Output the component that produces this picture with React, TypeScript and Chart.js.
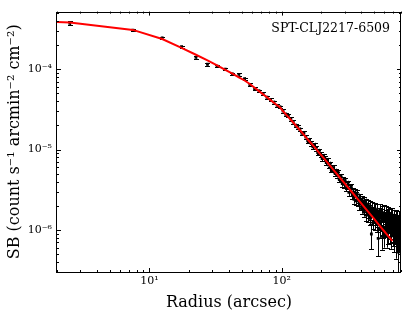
import React, { useEffect, useRef } from 'react';
import { Chart, registerables } from 'chart.js';

Chart.register(...registerables);

// Radial bins (arcsec)
const radii = [
  2.5, 7.5, 12.5, 17.5, 22.5, 27.5, 32.5, 37.5, 42.5, 47.5,
  52.5, 57.5, 62.5, 67.5, 72.5, 77.5, 82.5, 87.5, 92.5, 97.5,
  102.5, 107.5, 112.5, 117.5, 122.5, 127.5, 132.5, 137.5, 142.5, 147.5,
  152.5, 157.5, 162.5, 167.5, 172.5, 177.5, 182.5, 187.5, 192.5, 197.5,
  202.5, 207.5, 212.5, 217.5, 222.5, 227.5, 232.5, 237.5, 242.5, 247.5,
  252.5, 257.5, 262.5, 267.5, 272.5, 277.5, 282.5, 287.5, 292.5, 297.5,
  302.5, 307.5, 312.5, 317.5, 322.5, 327.5, 332.5, 337.5, 342.5, 347.5,
  352.5, 357.5, 362.5, 367.5, 372.5, 377.5, 382.5, 387.5, 392.5, 397.5,
  402.5, 407.5, 412.5, 417.5, 422.5, 427.5, 432.5, 437.5, 442.5, 447.5,
  452.5, 457.5, 462.5, 467.5, 472.5, 477.5, 482.5, 487.5, 492.5, 497.5,
  502.5, 507.5, 512.5, 517.5, 522.5, 527.5, 532.5, 537.5, 542.5, 547.5,
  552.5, 557.5, 562.5, 567.5, 572.5, 577.5, 582.5, 587.5, 592.5, 597.5,
  602.5, 607.5, 612.5, 617.5, 622.5, 627.5, 632.5, 637.5, 642.5, 647.5,
  652.5, 657.5, 662.5, 667.5, 672.5, 677.5, 682.5, 687.5, 692.5, 697.5,
  702.5, 707.5, 712.5, 717.5, 722.5, 727.5, 732.5, 737.5, 742.5, 747.5,
  752.5, 757.5, 762.5, 767.5, 772.5, 777.5,
];

// Surface brightness (count s^-1 arcmin^-2 cm^-2)
const sb = [
  3.72e-4, 3.05e-4, 2.45e-4, 1.9e-4, 1.4e-4, 1.15e-4, 1.09e-4, 1.0e-4, 8.7e-5, 8.6e-5,
  7.6e-5, 6.45e-5, 5.75e-5, 5.37e-5, 5.0e-5, 4.47e-5, 4.17e-5, 3.89e-5, 3.55e-5, 3.39e-5,
  3.02e-5, 2.75e-5, 2.63e-5, 2.4e-5, 2.19e-5, 2.0e-5, 1.91e-5, 1.79e-5, 1.59e-5, 1.6e-5,
  1.43e-5, 1.28e-5, 1.32e-5, 1.19e-5, 1.08e-5, 1.14e-5, 1.035e-5, 9.16e-6, 9.55e-6, 8.67e-6,
  7.71e-6, 8.26e-6, 7.71e-6, 6.87e-6, 7.36e-6, 6.43e-6, 6.61e-6, 5.64e-6, 5.93e-6, 5.96e-6,
  5.11e-6, 5.38e-6, 4.84e-6, 5.22e-6, 4.29e-6, 4.54e-6, 4.58e-6, 3.77e-6, 4.18e-6, 3.69e-6,
  4.09e-6, 3.37e-6, 3.58e-6, 3.72e-6, 2.93e-6, 3.34e-6, 2.96e-6, 3.37e-6, 2.72e-6, 2.97e-6,
  2.4e-6, 2.87e-6, 2.67e-6, 2.31e-6, 2.77e-6, 2.3e-6, 2.51e-6, 2.04e-6, 2.44e-6, 2.17e-6,
  1.85e-6, 2.32e-6, 1.88e-6, 2.26e-6, 1.75e-6, 2.01e-6, 1.53e-6, 2.11e-6, 1.84e-6, 1.53e-6,
  2.02e-6, 1.72e-6, 1.4e-6, 1.94e-6, 1.65e-6, 8.9e-7, 1.86e-6, 1.55e-6, 1.26e-6, 1.83e-6,
  1.53e-6, 1.24e-6, 1.81e-6, 1.47e-6, 1.2e-6, 1.75e-6, 1.46e-6, 7.85e-7, 1.54e-6, 1.29e-6,
  1.71e-6, 1.03e-6, 1.5e-6, 1.28e-6, 8.34e-7, 1.63e-6, 1.28e-6, 1.04e-6, 1.63e-6, 8.6e-7,
  1.34e-6, 1.07e-6, 1.59e-6, 1.14e-6, 8.47e-7, 1.39e-6, 1.14e-6, 1.54e-6, 9.35e-7, 1.24e-6,
  1.44e-6, 9.57e-7, 1.3e-6, 1.07e-6, 1.45e-6, 8.43e-7, 1.17e-6, 1.46e-6, 9.06e-7, 1.23e-6,
  1.01e-6, 1.38e-6, 7.82e-7, 1.19e-6, 1.0e-6, 1.36e-6, 6.75e-7, 1.18e-6, 9.93e-7, 1.32e-6,
  8.05e-7, 1.15e-6, 5.3e-7, 1.04e-6, 1.3e-6, 8.07e-7,
];

// Relative 1-sigma uncertainties
const sbRelErr = [
  0.06, 0.035, 0.03, 0.03, 0.035, 0.035, 0.035, 0.035, 0.035, 0.035,
  0.035, 0.035, 0.035, 0.035, 0.04, 0.04, 0.04, 0.04, 0.04, 0.04,
  0.045, 0.045, 0.045, 0.045, 0.05, 0.05, 0.05, 0.05, 0.055, 0.055,
  0.055, 0.06, 0.06, 0.06, 0.065, 0.065, 0.065, 0.07, 0.07, 0.07,
  0.07, 0.07, 0.07, 0.07, 0.07, 0.07, 0.07, 0.075, 0.075, 0.075,
  0.075, 0.075, 0.075, 0.075, 0.08, 0.08, 0.085, 0.085, 0.085, 0.09,
  0.09, 0.095, 0.095, 0.1, 0.1, 0.1, 0.105, 0.105, 0.11, 0.11,
  0.115, 0.115, 0.12, 0.125, 0.125, 0.13, 0.13, 0.135, 0.135, 0.14,
  0.14, 0.14, 0.15, 0.15, 0.16, 0.16, 0.165, 0.165, 0.17, 0.17,
  0.175, 0.175, 0.18, 0.18, 0.185, 0.35, 0.19, 0.19, 0.195, 0.195,
  0.2, 0.2, 0.2, 0.205, 0.21, 0.21, 0.215, 0.4, 0.22, 0.22,
  0.22, 0.225, 0.225, 0.23, 0.32, 0.23, 0.235, 0.24, 0.24, 0.3,
  0.245, 0.245, 0.25, 0.255, 0.29, 0.26, 0.26, 0.26, 0.29, 0.265,
  0.27, 0.29, 0.275, 0.28, 0.28, 0.31, 0.28, 0.285, 0.31, 0.29,
  0.29, 0.29, 0.32, 0.295, 0.3, 0.3, 0.35, 0.3, 0.31, 0.31,
  0.33, 0.31, 0.55, 0.315, 0.315, 0.34,
];

// Best-fit model curve
const modelRadii = [
  2, 2.5, 7.5, 12.5, 17.5, 22.5, 27.5, 32.5, 37.5, 42.5,
  47.5, 52.5, 57.5, 62.5, 67.5, 72.5, 77.5, 82.5, 87.5, 92.5,
  97.5, 102.5, 112.5, 122.5, 132.5, 142.5, 152.5, 162.5, 177.5, 192.5,
  207.5, 222.5, 247.5, 272.5, 297.5, 322.5, 347.5, 372.5, 397.5, 422.5,
  447.5, 472.5, 497.5, 522.5, 547.5, 572.5, 597.5, 622.5, 647.5, 672.5,
  687.5,
];
const modelSb = [
  3.85e-4, 3.8e-4, 3.08e-4, 2.37e-4, 1.84e-4, 1.51e-4, 1.285e-4, 1.117e-4, 9.82e-5, 8.77e-5,
  7.91e-5, 7.23e-5, 6.53e-5, 5.87e-5, 5.33e-5, 4.86e-5, 4.47e-5, 4.12e-5, 3.82e-5, 3.56e-5,
  3.33e-5, 3.01e-5, 2.53e-5, 2.17e-5, 1.87e-5, 1.63e-5, 1.43e-5, 1.26e-5, 1.07e-5, 9.12e-6,
  7.89e-6, 6.87e-6, 5.56e-6, 4.59e-6, 3.86e-6, 3.29e-6, 2.84e-6, 2.47e-6, 2.17e-6, 1.92e-6,
  1.71e-6, 1.54e-6, 1.39e-6, 1.26e-6, 1.15e-6, 1.05e-6, 9.64e-7, 8.87e-7, 8.18e-7, 7.62e-7,
  7.29e-7,
];

const xTickValues = [10, 100];
const yTickValues = [1e-6, 1e-5, 1e-4];
const clusterName = 'SPT-CLJ2217-6509';
const xTitle = 'Radius (arcsec)';
const yTitle = 'SB (count s\u207B\u00B9 arcmin\u207B\u00B2 cm\u207B\u00B2)';

const SUP: Record<string, string> = {
  '-': '\u207B', '0': '\u2070', '1': '\u00B9', '2': '\u00B2', '3': '\u00B3',
  '4': '\u2074', '5': '\u2075', '6': '\u2076', '7': '\u2077', '8': '\u2078', '9': '\u2079',
};
const decadeLabel = (v: number) =>
  '10' + String(Math.round(Math.log10(v))).split('').map((c) => SUP[c] || c).join('');

const FONT = 'DejaVu Serif';

const errorBarPlugin = {
  id: 'errorBars',
  beforeDatasetsDraw(chart: any) {
    const { ctx, chartArea } = chart;
    const xs = chart.scales.x;
    const ys = chart.scales.y;
    ctx.save();
    ctx.beginPath();
    ctx.rect(chartArea.left, chartArea.top, chartArea.right - chartArea.left, chartArea.bottom - chartArea.top);
    ctx.clip();
    ctx.strokeStyle = '#000';
    ctx.lineWidth = 1;
    const n = Math.min(radii.length, sb.length, sbRelErr.length);
    for (let i = 0; i < n; i++) {
      const v = sb[i];
      const e = v * sbRelErr[i];
      const x = Math.round(xs.getPixelForValue(radii[i])) + 0.5;
      const yHi = ys.getPixelForValue(v + e);
      const yLo = ys.getPixelForValue(Math.max(v - e, 1e-12));
      ctx.beginPath();
      ctx.moveTo(x, yHi);
      ctx.lineTo(x, yLo);
      ctx.moveTo(x - 2.5, Math.round(yHi) + 0.5);
      ctx.lineTo(x + 2.5, Math.round(yHi) + 0.5);
      ctx.moveTo(x - 2.5, Math.round(yLo) + 0.5);
      ctx.lineTo(x + 2.5, Math.round(yLo) + 0.5);
      ctx.stroke();
    }
    ctx.restore();
  },
};

const framePlugin = {
  id: 'frameTicks',
  afterDraw(chart: any) {
    const { ctx, chartArea } = chart;
    const { left, right, top, bottom } = chartArea;
    const xs = chart.scales.x;
    const ys = chart.scales.y;
    ctx.save();
    ctx.strokeStyle = '#000';
    ctx.lineWidth = 1;
    ctx.strokeRect(Math.round(left) - 0.5, Math.round(top) + 0.5, Math.round(right - left), Math.round(bottom - top));

    const major = 4;
    const minor = 2;
    ctx.beginPath();
    for (let d = 1; d <= 1000; d *= 10) {
      for (let k = 1; k <= 9; k++) {
        const v = k * d;
        if (v < xs.min || v > xs.max) continue;
        const len = k === 1 ? major : minor;
        const x = Math.round(xs.getPixelForValue(v)) + 0.5;
        ctx.moveTo(x, bottom);
        ctx.lineTo(x, bottom - len);
        ctx.moveTo(x, top);
        ctx.lineTo(x, top + len);
      }
    }
    for (let d = 1e-8; d <= 1e-3; d *= 10) {
      for (let k = 1; k <= 9; k++) {
        const v = k * d;
        if (v < ys.min || v > ys.max) continue;
        const len = k === 1 ? major : minor;
        const y = Math.round(ys.getPixelForValue(v)) + 0.5;
        ctx.moveTo(left, y);
        ctx.lineTo(left + len, y);
        ctx.moveTo(right, y);
        ctx.lineTo(right - len, y);
      }
    }
    ctx.stroke();

    ctx.fillStyle = '#000';
    ctx.font = `12.5px "${FONT}"`;
    ctx.textAlign = 'right';
    ctx.textBaseline = 'middle';
    ctx.fillText(clusterName, right - 11, top + 17.5);
    ctx.restore();
  },
};

export default function App() {
  const canvasRef = useRef<HTMLCanvasElement | null>(null);

  useEffect(() => {
    document.body.style.margin = '0';
    const canvas = canvasRef.current;
    if (!canvas) return;

    const points = radii.map((r, i) => ({ x: r, y: sb[i] })).filter((p) => p.y !== undefined);
    const model = modelRadii.map((r, i) => ({ x: r, y: modelSb[i] }));

    const chart = new Chart(canvas, {
      type: 'scatter',
      data: {
        datasets: [
          {
            label: 'data',
            data: points,
            showLine: false,
            pointStyle: 'rect',
            pointRadius: 2,
            pointBorderWidth: 0,
            pointBackgroundColor: '#000',
            pointBorderColor: '#000',
            order: 2,
          },
          {
            label: 'model',
            data: model,
            showLine: true,
            borderColor: '#ff0000',
            borderWidth: 2,
            pointRadius: 0,
            fill: false,
            tension: 0,
            order: 1,
          },
        ],
      },
      options: {
        responsive: false,
        animation: false,
        devicePixelRatio: 1,
        layout: { padding: { top: 5, right: 6, left: 0, bottom: 0 } },
        plugins: {
          legend: { display: false },
          tooltip: { enabled: false },
        },
        scales: {
          x: {
            type: 'logarithmic',
            position: 'bottom',
            min: 2,
            max: 800,
            grid: { display: false, drawTicks: false },
            border: { display: false },
            afterBuildTicks: (scale: any) => {
              scale.ticks = xTickValues.map((v) => ({ value: v }));
            },
            afterFit: (scale: any) => {
              scale.height = 43;
            },
            ticks: {
              autoSkip: false,
              maxRotation: 0,
              padding: 3,
              color: '#000',
              font: { family: FONT, size: 11 },
              callback: (v: any) => decadeLabel(Number(v)),
            },
            title: {
              display: true,
              text: xTitle,
              color: '#000',
              font: { family: FONT, size: 16 },
              padding: { top: 0, bottom: 3 },
            },
          },
          y: {
            type: 'logarithmic',
            position: 'left',
            min: 3e-7,
            max: 5.2e-4,
            grid: { display: false, drawTicks: false },
            border: { display: false },
            afterBuildTicks: (scale: any) => {
              scale.ticks = yTickValues.map((v) => ({ value: v }));
            },
            afterFit: (scale: any) => {
              scale.width = 57;
            },
            ticks: {
              autoSkip: false,
              padding: 5,
              color: '#000',
              font: { family: FONT, size: 11 },
              callback: (v: any) => decadeLabel(Number(v)),
            },
            title: {
              display: true,
              text: yTitle,
              color: '#000',
              font: { family: FONT, size: 16 },
              padding: { top: 5, bottom: 0 },
            },
          },
        },
      },
      plugins: [errorBarPlugin, framePlugin],
    } as any);

    return () => chart.destroy();
  }, []);

  return (
    <div style={{ position: 'absolute', left: 0, top: 0, width: 407, height: 315, background: '#fff' }}>
      <canvas ref={canvasRef} width={407} height={315} style={{ display: 'block', width: 407, height: 315 }} />
    </div>
  );
}
